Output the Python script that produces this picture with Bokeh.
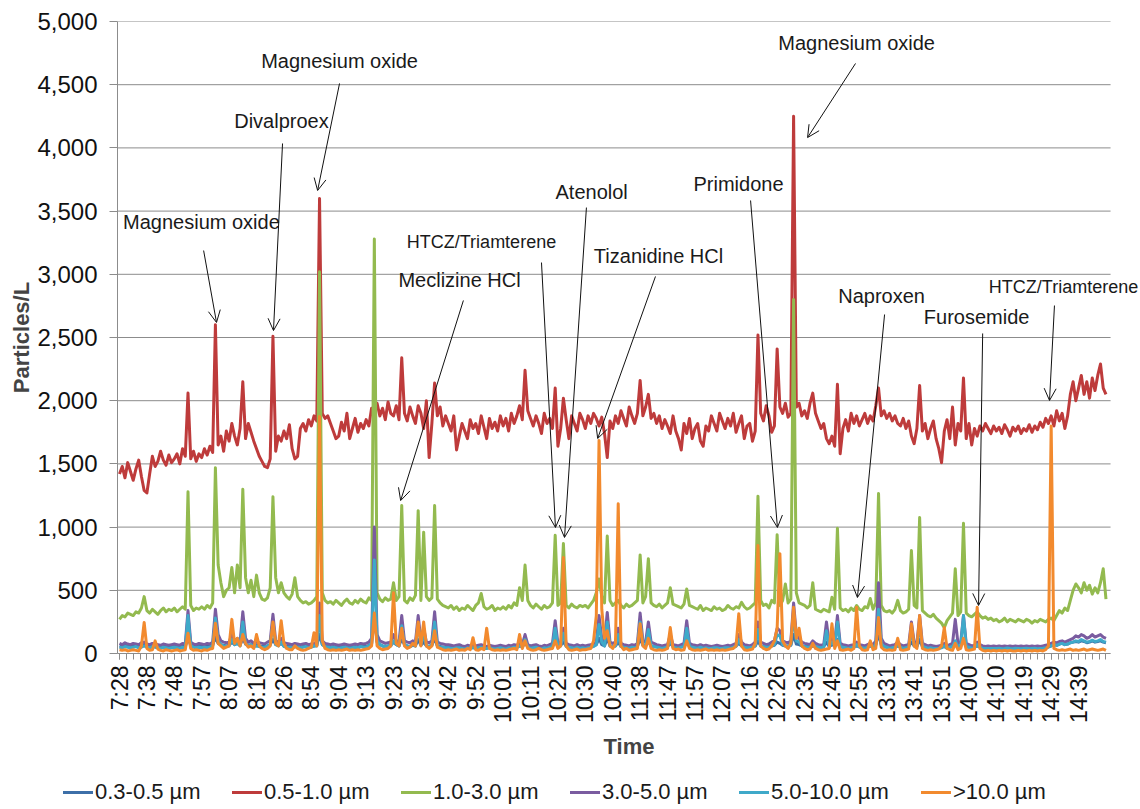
from math import pi

from bokeh.plotting import figure
from bokeh.layouts import column
from bokeh.models import (FixedTicker, Range1d, Arrow, OpenHead, Label,
                          NumeralTickFormatter, Div)
from bokeh.embed import file_html
from bokeh.resources import INLINE

# ---------------------------------------------------------------------------
# Particle counter readings (particles per litre), one reading per category
# ---------------------------------------------------------------------------
time_labels = ["7:28", "7:38", "7:48", "7:57", "8:07", "8:16", "8:26", "8:54",
               "9:04", "9:13", "9:23", "9:32", "9:42", "9:52", "10:01", "10:11",
               "10:21", "10:30", "10:40", "11:38", "11:47", "11:57", "12:07",
               "12:16", "12:26", "12:35", "12:45", "12:55", "13:31", "13:41",
               "13:51", "14:00", "14:10", "14:19", "14:29", "14:39"]
label_step = 10          # readings between two printed time labels

size_bins = ["0.3-0.5 µm", "0.5-1.0 µm", "1.0-3.0 µm",
             "3.0-5.0 µm", "5.0-10.0 µm", ">10.0 µm"]

pm_03_05 = [
    60, 55, 65, 60, 55, 60, 65, 55, 60, 70,
    60, 55, 60, 55, 50, 55, 60, 55, 50, 55,
    60, 55, 50, 60, 55, 120, 65, 60, 55, 60,
    55, 60, 55, 60, 65, 130, 80, 70, 65, 60,
    65, 90, 70, 80, 65, 120, 75, 65, 70, 60,
    65, 60, 55, 55, 60, 70, 110, 70, 65, 80,
    60, 55, 55, 50, 55, 55, 50, 55, 60, 50,
    55, 60, 65, 150, 70, 60, 55, 50, 55, 50,
    50, 55, 55, 50, 45, 50, 55, 50, 55, 55,
    55, 65, 75, 300, 90, 70, 60, 55, 60, 65,
    90, 70, 60, 120, 70, 60, 55, 65, 60, 110,
    65, 90, 60, 55, 65, 120, 60, 55, 50, 50,
    50, 45, 45, 50, 50, 45, 40, 50, 45, 50,
    45, 50, 55, 45, 45, 50, 45, 40, 45, 50,
    45, 40, 50, 45, 55, 50, 60, 55, 80, 55,
    45, 50, 55, 45, 40, 50, 45, 55, 60, 110,
    60, 65, 90, 60, 55, 50, 45, 55, 45, 50,
    45, 50, 55, 60, 70, 120, 70, 60, 120, 60,
    55, 60, 90, 55, 50, 50, 45, 55, 50, 55,
    120, 65, 60, 100, 60, 55, 55, 50, 45, 50,
    55, 80, 55, 50, 45, 55, 60, 110, 55, 50,
    50, 45, 55, 45, 50, 45, 45, 50, 50, 45,
    45, 50, 50, 45, 55, 60, 80, 60, 55, 50,
    50, 55, 60, 100, 60, 55, 55, 55, 60, 65,
    90, 80, 65, 60, 60, 65, 150, 75, 70, 60,
    55, 55, 55, 60, 55, 50, 50, 55, 90, 55,
    70, 60, 110, 55, 50, 50, 45, 50, 55, 60,
    55, 50, 45, 55, 60, 55, 65, 160, 65, 55,
    50, 45, 50, 55, 60, 55, 45, 50, 55, 90,
    60, 55, 110, 55, 50, 45, 50, 45, 45, 45,
    50, 55, 45, 50, 55, 90, 55, 60, 120, 55,
    50, 45, 50, 60, 50, 45, 45, 45, 45, 45,
    45, 47, 43, 45, 48, 45, 43, 47, 45, 43,
    45, 47, 43, 45, 47, 43, 45, 47, 50, 55,
    60, 70, 65, 75, 80, 70, 75, 85, 90, 95,
    90, 100, 95, 85, 90, 100, 90, 95, 100, 90, 85,
]

pm_05_10 = [
    1420, 1480, 1390, 1510, 1440, 1370, 1460, 1530, 1400, 1290,
    1270, 1420, 1560, 1480, 1520, 1600, 1530, 1490, 1570, 1510,
    1540, 1580, 1500, 1620, 1560, 2060, 1540, 1600, 1520, 1580,
    1550, 1620, 1570, 1640, 1590, 2600, 1650, 1720, 1600, 1760,
    1680, 1820, 1720, 1650, 1780, 2150, 1700, 1820, 1750, 1680,
    1620, 1560, 1520, 1480, 1470, 1540, 2510, 1600, 1720, 1680,
    1760, 1700, 1810, 1620, 1540, 1560, 1780, 1820, 1760, 1850,
    1800, 1880, 1840, 3600, 1900, 1860, 1880, 1820, 1760, 1700,
    1720, 1830, 1760, 1900, 1700, 1780, 1860, 1750, 1820, 1780,
    1850, 1800, 1940, 1900, 1980, 1880, 1940, 1850, 1990, 1900,
    1880, 1960, 1850, 2340, 1900, 1840, 1950, 1880, 1820, 1960,
    1900, 1780, 2000, 1550, 1820, 2140, 1880, 1950, 1800, 1880,
    1820, 1760, 1880, 1610, 1720, 1820, 1760, 1700, 1850, 1780,
    1820, 1740, 1880, 1790, 1700, 1860, 1780, 1830, 1760, 1880,
    1800, 1860, 1760, 1900, 1820, 1880, 1960, 1850, 2240, 1920,
    1860, 1800, 1880, 1820, 1740, 1900, 1820, 1860, 1780, 2100,
    1640, 1780, 2020, 1850, 1700, 1880, 1820, 1760, 1900, 1850,
    1780, 1880, 1820, 1900, 1860, 1800, 1870, 1740, 1550, 1840,
    1780, 1880, 1820, 1920, 1860, 1800, 1950, 1880, 1820, 1900,
    2160, 1880, 1950, 2050, 1860, 1900, 1820, 1880, 1780, 1850,
    1800, 1740, 1880, 1760, 1700, 1610, 1820, 1740, 1860, 1700,
    1780, 1820, 1680, 1640, 1800, 1760, 1880, 1820, 1760, 1900,
    1840, 1780, 1860, 1800, 1900, 1750, 1820, 1880, 1700, 1800,
    1820, 1680, 1760, 2520, 1900, 1840, 1960, 1880, 1750, 1800,
    2410, 1950, 1900, 1980, 1870, 1900, 4250, 1950, 1980, 1880,
    1920, 1860, 1980, 2060, 1900, 1840, 1780, 1820, 1700, 1660,
    1720, 1640, 2130, 1580, 1780, 1850, 1760, 1900, 1820, 1880,
    1800, 1850, 1900, 1820, 1880, 1840, 1960, 2100, 1880, 1920,
    1860, 1900, 1840, 1880, 1820, 1800, 1860, 1780, 1840, 1720,
    1660, 1780, 2120, 1760, 1820, 1700, 1780, 1840, 1700, 1620,
    1510, 1760, 1850, 1700, 1950, 1650, 1820, 1760, 2180, 1700,
    1820, 1650, 1780, 1720, 1800, 1760, 1820, 1780, 1740, 1800,
    1760, 1790, 1740, 1810, 1770, 1720, 1790, 1760, 1800, 1740,
    1780, 1760, 1810, 1750, 1800, 1770, 1830, 1790, 1860, 1820,
    1880, 1800, 1920, 1840, 1900, 1780, 1880, 2050, 2150, 2000,
    2100, 2200, 2050, 2150, 2020, 2180, 2080, 2200, 2290, 2100, 2050,
]

pm_10_30 = [
    270, 300, 290, 320, 310, 300, 330, 320, 360, 450,
    340, 320, 350, 330, 310, 340, 360, 330, 350, 340,
    360, 330, 350, 370, 350, 1280, 380, 340, 360, 350,
    370, 350, 380, 360, 400, 1470, 700, 560, 450, 500,
    520, 680, 480, 700, 520, 1300, 600, 480, 580, 450,
    620, 480, 430, 420, 440, 520, 1240, 600, 480, 560,
    480, 450, 430, 470, 600, 450, 420, 400, 410, 390,
    400, 420, 450, 3020, 480, 420, 400, 410, 390, 420,
    400, 380, 410, 430, 400, 390, 420, 400, 430, 410,
    400, 440, 420, 3280, 480, 430, 410, 440, 420, 430,
    560, 420, 450, 1170, 420, 400, 440, 420, 460, 1130,
    420, 960, 450, 420, 440, 1170, 430, 400, 380, 370,
    360, 380, 350, 370, 340, 360, 350, 380, 360, 340,
    380, 400, 475, 370, 350, 360, 380, 340, 360, 350,
    370, 350, 380, 360, 400, 380, 520, 420, 700, 420,
    380, 360, 390, 370, 350, 380, 360, 370, 400, 935,
    380, 400, 870, 380, 360, 390, 370, 360, 380, 370,
    380, 360, 390, 420, 480, 590, 450, 400, 930, 420,
    380, 400, 420, 380, 360, 390, 370, 380, 400, 420,
    780, 400, 450, 750, 400, 380, 370, 390, 360, 380,
    400, 520, 390, 380, 370, 360, 390, 510, 380, 370,
    360, 350, 380, 340, 360, 350, 340, 370, 350, 360,
    340, 350, 380, 360, 350, 370, 360, 405, 370, 350,
    360, 380, 400, 1245, 420, 380, 390, 360, 420, 400,
    940, 380, 420, 550, 400, 430, 2800, 480, 400, 390,
    380, 360, 380, 560, 350, 340, 330, 350, 340, 330,
    445, 350, 990, 360, 340, 350, 330, 360, 340, 380,
    350, 340, 370, 360, 435, 350, 400, 1265, 380, 340,
    330, 340, 320, 350, 420, 340, 320, 330, 350, 815,
    380, 360, 1075, 340, 320, 300, 290, 310, 280, 260,
    240, 205, 260, 290, 320, 670, 300, 330, 1030, 320,
    300, 290, 310, 330, 300, 280, 290, 270, 280, 260,
    270, 250, 260, 280, 250, 270, 260, 250, 270, 260,
    250, 270, 260, 240, 260, 250, 270, 260, 250, 270,
    280, 260, 300, 340, 320, 360, 340, 420, 500, 550,
    520, 480, 560, 500, 540, 470, 520, 480, 560, 670, 430,
]

pm_30_50 = [
    80, 70, 85, 75, 70, 80, 75, 70, 85, 90,
    75, 70, 80, 75, 70, 65, 75, 70, 65, 70,
    75, 70, 65, 80, 75, 340, 90, 75, 70, 80,
    75, 70, 80, 75, 90, 350, 150, 100, 90, 85,
    90, 150, 100, 120, 90, 330, 120, 90, 100, 80,
    90, 85, 80, 75, 90, 100, 310, 100, 90, 120,
    85, 80, 75, 70, 80, 75, 70, 75, 80, 70,
    75, 80, 90, 400, 100, 80, 75, 70, 75, 70,
    65, 70, 75, 70, 65, 70, 75, 70, 80, 75,
    80, 90, 120, 1000, 150, 100, 90, 80, 85, 90,
    150, 100, 90, 300, 100, 90, 85, 100, 90, 300,
    100, 200, 90, 85, 100, 330, 90, 80, 75, 70,
    70, 65, 60, 65, 70, 60, 55, 65, 60, 70,
    60, 65, 70, 60, 55, 65, 60, 55, 60, 65,
    60, 55, 65, 60, 70, 65, 80, 70, 150, 70,
    60, 65, 70, 60, 55, 65, 60, 70, 80, 260,
    80, 90, 200, 80, 70, 65, 60, 70, 60, 65,
    60, 65, 70, 75, 90, 300, 120, 90, 325, 90,
    80, 90, 200, 80, 70, 65, 60, 70, 65, 80,
    320, 100, 90, 250, 90, 80, 70, 65, 60, 65,
    70, 150, 70, 65, 60, 70, 80, 260, 80, 70,
    65, 60, 70, 60, 65, 60, 55, 60, 65, 60,
    55, 60, 65, 60, 70, 80, 150, 90, 70, 65,
    60, 70, 90, 250, 90, 80, 70, 75, 90, 100,
    200, 180, 100, 90, 85, 100, 400, 150, 120, 90,
    80, 75, 70, 100, 80, 70, 65, 70, 250, 80,
    120, 90, 300, 80, 70, 65, 60, 65, 70, 90,
    70, 65, 60, 70, 80, 70, 100, 560, 120, 80,
    70, 60, 65, 70, 90, 70, 60, 65, 70, 250,
    90, 80, 300, 80, 70, 60, 65, 60, 55, 60,
    65, 80, 60, 70, 80, 270, 80, 90, 300, 80,
    70, 60, 65, 90, 70, 60, 55, 60, 55, 60,
    55, 60, 55, 60, 55, 60, 55, 60, 55, 60,
    55, 60, 55, 60, 55, 60, 55, 60, 65, 70,
    80, 90, 85, 95, 100, 90, 100, 110, 120, 140,
    130, 150, 140, 120, 130, 150, 130, 140, 150, 130, 120,
]

pm_50_100 = [
    50, 45, 55, 50, 45, 50, 55, 45, 50, 60,
    50, 45, 55, 50, 45, 40, 50, 45, 40, 45,
    50, 45, 40, 50, 45, 300, 60, 50, 45, 50,
    45, 50, 45, 50, 60, 280, 100, 70, 60, 55,
    60, 110, 70, 80, 60, 250, 80, 60, 70, 55,
    60, 55, 50, 50, 60, 70, 240, 70, 60, 90,
    55, 50, 50, 45, 55, 50, 45, 50, 55, 45,
    50, 60, 60, 300, 70, 55, 50, 45, 50, 45,
    40, 45, 50, 45, 40, 45, 50, 45, 55, 50,
    50, 60, 80, 740, 100, 70, 60, 55, 60, 60,
    100, 70, 60, 220, 70, 60, 55, 70, 60, 230,
    70, 150, 60, 55, 70, 250, 60, 50, 50, 45,
    45, 40, 40, 45, 45, 40, 35, 45, 40, 45,
    40, 45, 50, 40, 40, 45, 40, 35, 40, 45,
    40, 35, 45, 40, 50, 45, 60, 50, 110, 50,
    40, 45, 50, 40, 35, 45, 40, 50, 55, 200,
    55, 60, 160, 55, 50, 45, 40, 50, 40, 45,
    40, 45, 50, 55, 70, 230, 90, 60, 250, 60,
    55, 60, 150, 55, 50, 45, 40, 50, 45, 55,
    250, 70, 60, 190, 60, 55, 50, 45, 40, 45,
    50, 110, 50, 45, 40, 50, 55, 200, 55, 50,
    45, 40, 50, 40, 45, 40, 40, 45, 45, 40,
    40, 45, 45, 40, 50, 55, 110, 60, 50, 45,
    45, 50, 60, 190, 60, 55, 50, 50, 60, 70,
    150, 140, 70, 60, 60, 70, 300, 100, 90, 60,
    55, 50, 50, 70, 55, 50, 45, 50, 180, 55,
    90, 60, 250, 55, 50, 45, 40, 45, 50, 70,
    50, 45, 40, 50, 60, 50, 70, 350, 80, 55,
    50, 40, 45, 50, 60, 50, 40, 45, 50, 180,
    60, 55, 230, 55, 50, 40, 45, 40, 40, 40,
    45, 60, 40, 50, 55, 100, 55, 60, 300, 55,
    50, 40, 45, 70, 50, 40, 40, 40, 40, 40,
    40, 42, 38, 40, 44, 40, 38, 42, 40, 38,
    40, 42, 38, 40, 42, 38, 40, 42, 45, 50,
    60, 70, 65, 75, 80, 70, 75, 85, 90, 100,
    95, 110, 100, 90, 95, 105, 95, 100, 110, 95, 90,
]

pm_over_100 = [
    30, 25, 30, 20, 25, 30, 25, 20, 60, 245,
    40, 25, 30, 100, 35, 25, 20, 30, 25, 20,
    25, 30, 20, 25, 30, 160, 40, 25, 30, 25,
    20, 30, 25, 35, 40, 240, 80, 60, 40, 50,
    60, 270, 80, 120, 60, 150, 80, 50, 60, 40,
    150, 60, 40, 30, 40, 60, 250, 80, 60, 260,
    80, 40, 30, 30, 60, 40, 30, 25, 30, 40,
    50, 165, 60, 1875, 100, 40, 30, 25, 30, 25,
    30, 25, 30, 35, 25, 30, 25, 30, 25, 30,
    35, 40, 60, 320, 60, 40, 30, 35, 40, 60,
    480, 80, 60, 200, 60, 40, 50, 80, 60, 250,
    60, 250, 60, 40, 60, 180, 50, 40, 30, 25,
    30, 25, 30, 35, 25, 30, 25, 40, 30, 125,
    30, 25, 40, 30, 200, 40, 30, 25, 30, 25,
    30, 25, 30, 35, 40, 30, 150, 40, 100, 40,
    30, 25, 30, 40, 30, 25, 30, 35, 40, 100,
    40, 60, 760, 60, 30, 25, 30, 35, 25, 30,
    30, 35, 40, 100, 300, 1685, 350, 120, 180, 60,
    40, 80, 1185, 60, 30, 40, 25, 30, 35, 40,
    235, 60, 40, 120, 40, 30, 25, 30, 25, 30,
    40, 205, 40, 30, 35, 25, 30, 100, 40, 30,
    25, 30, 25, 30, 35, 25, 30, 25, 30, 25,
    30, 25, 30, 35, 40, 60, 315, 60, 30, 25,
    30, 35, 80, 855, 60, 40, 30, 35, 60, 100,
    200, 790, 100, 60, 40, 80, 365, 120, 200, 60,
    40, 30, 35, 80, 40, 30, 25, 30, 35, 40,
    235, 40, 100, 30, 25, 30, 35, 25, 40, 365,
    60, 30, 25, 30, 100, 30, 40, 285, 50, 30,
    25, 30, 25, 30, 120, 30, 25, 30, 35, 235,
    60, 40, 300, 40, 30, 25, 30, 25, 30, 35,
    60, 205, 40, 30, 25, 80, 30, 40, 120, 30,
    25, 30, 35, 365, 40, 25, 20, 25, 20, 25,
    20, 25, 20, 25, 20, 25, 20, 20, 25, 20,
    25, 20, 25, 20, 25, 20, 25, 20, 30, 60,
    1800, 40, 30, 25, 30, 25, 30, 35, 25, 30,
    25, 30, 35, 25, 30, 35, 30, 25, 30, 35, 25,
]

series_values = [pm_03_05, pm_05_10, pm_10_30, pm_30_50, pm_50_100, pm_over_100]
series_colors = ["#3D6FA8", "#BE3B3B", "#93BA4F", "#7A5CA0", "#3FA9C9", "#F28A2E"]

# Drug annotations: text, text position, arrow tail, arrow tip (data units)
drug_names = ["Magnesium oxide", "Divalproex", "Magnesium oxide", "Meclizine HCl",
              "HTCZ/Triamterene", "Atenolol", "Tizanidine HCl", "Primidone",
              "Magnesium oxide", "Naproxen", "Furosemide", "HTCZ/Triamterene"]
drug_text_xy = [(29.9, 3410), (59.1, 4209), (80.3, 4684), (124.1, 2951),
                (132.1, 3252), (172.3, 3655), (196.7, 3141), (225.9, 3718),
                (269.0, 4826), (278.1, 2832), (312.8, 2666), (344.5, 2903)]
drug_text_size = ["20px", "20px", "20px", "20px", "18px", "20px", "20px", "20px",
                  "20px", "20px", "20px", "18px"]
arrow_tail_xy = [(30.7, 3188), (59.5, 4035), (80.3, 4510), (125.5, 2793),
                 (154.0, 3093), (170.4, 3528), (195.6, 2983), (230.3, 3584),
                 (268.6, 4668), (279.2, 2682), (315.0, 2532), (341.2, 2753)]
arrow_tip_xy = [(35.4, 2619), (56.2, 2555), (72.3, 3663), (102.6, 1210),
                (159.1, 997), (162.4, 918), (174.5, 1701), (240.1, 997),
                (251.1, 4082), (269.3, 443), (313.5, 380), (339.4, 2002)]

# ---------------------------------------------------------------------------
FONT = "Liberation Sans"
GRID = "#8c8c8c"
X_START, X_DATA_END, X_VIEW_END = -0.73, 361.68, 372.6
y_ticks = list(range(0, 5001, 500))

# the frame runs to the right edge of the page so the last label is not cut;
# grid lines and the category axis stop where the data area ends
p = figure(width=1140, height=776, output_backend="svg", toolbar_location=None,
           x_range=Range1d(X_START, X_VIEW_END), y_range=Range1d(0, 5000),
           min_border_left=117, min_border_right=0, min_border_top=21,
           min_border_bottom=123)
p.outline_line_color = None
p.background_fill_color = "white"
p.border_fill_color = "white"
p.xgrid.visible = False
p.ygrid.visible = False

p.segment(x0=[X_START] * len(y_ticks), x1=[X_DATA_END] * len(y_ticks),
          y0=y_ticks, y1=y_ticks, line_color=GRID, line_width=1)

# y axis
p.yaxis.ticker = FixedTicker(ticks=y_ticks)
p.yaxis.formatter = NumeralTickFormatter(format="0,0")
p.yaxis.axis_label = "Particles/L"
p.yaxis.axis_label_text_font = FONT
p.yaxis.axis_label_text_font_style = "bold"
p.yaxis.axis_label_text_font_size = "22px"
p.yaxis.axis_label_standoff = 0
p.yaxis.major_label_text_font = FONT
p.yaxis.major_label_text_font_size = "24px"
p.yaxis.major_label_text_color = "#111111"
p.yaxis.major_label_standoff = 12
p.yaxis.axis_line_color = GRID
p.yaxis.major_tick_line_color = GRID
p.yaxis.major_tick_in = 0
p.yaxis.major_tick_out = 8
p.yaxis.minor_tick_line_color = None

# x axis: a category axis, one label every `label_step` readings
label_pos = [k * label_step for k in range(len(time_labels))]
minor_pos = [k * label_step / 4 for k in range(len(time_labels) * 4 + 1)]
p.xaxis.ticker = FixedTicker(ticks=label_pos, minor_ticks=minor_pos)
p.xaxis.bounds = (X_START, X_DATA_END)
p.xaxis.major_label_overrides = {pos: lab for pos, lab in zip(label_pos, time_labels)}
p.xaxis.major_label_orientation = pi / 2
p.xaxis.major_label_text_font = FONT
p.xaxis.major_label_text_font_size = "23px"
p.xaxis.major_label_text_color = "#111111"
p.xaxis.major_label_standoff = 6
p.xaxis.axis_label = "Time"
p.xaxis.axis_label_text_font = FONT
p.xaxis.axis_label_text_font_style = "bold"
p.xaxis.axis_label_text_font_size = "22px"
p.xaxis.axis_label_standoff = 8
p.xaxis.axis_line_color = GRID
p.xaxis.major_tick_line_color = GRID
p.xaxis.minor_tick_line_color = GRID
p.xaxis.major_tick_in = 0
p.xaxis.major_tick_out = 6
p.xaxis.minor_tick_in = 0
p.xaxis.minor_tick_out = 6

# series lines, smallest particles first so the coarse fraction sits on top
for vals, col in zip(series_values, series_colors):
    p.line(list(range(len(vals))), vals, line_color=col, line_width=3,
           line_join="round")

# drug release annotations
for name, (tx, ty), fs, (ax, ay), (bx, by) in zip(drug_names, drug_text_xy,
                                                  drug_text_size, arrow_tail_xy,
                                                  arrow_tip_xy):
    p.add_layout(Arrow(x_start=ax, y_start=ay, x_end=bx, y_end=by,
                       line_color="#111111", line_width=1,
                       end=OpenHead(size=12, line_width=1, line_color="#111111")))
    p.add_layout(Label(x=tx, y=ty, text=name, text_align="center",
                       text_baseline="middle", text_font=FONT,
                       text_font_size=fs, text_color="#1a1a1a"))

# legend strip under the chart: a coloured key line and the size bin name
key_left = [63, 232, 401, 570, 739, 921]     # pixel offset of each key
parts = []
for x0, name, col in zip(key_left, size_bins, series_colors):
    parts.append(
        f'<span style="position:absolute;left:{x0}px;top:15px;width:30px;'
        f'height:3px;background:{col};"></span>'
        f'<span style="position:absolute;left:{x0 + 32}px;top:2px;'
        f'line-height:28px;white-space:nowrap;">{name}</span>')
legend_html = ('<div style="position:relative;width:1140px;height:33px;'
               f'font-family:\'{FONT}\';font-size:22px;color:#1a1a1a;">'
               + "".join(parts) + '</div>')
key = Div(text=legend_html, width=1140, height=33, margin=0)

layout = column(p, key, spacing=0)
open("out.html", "w").write(file_html(layout, INLINE))
